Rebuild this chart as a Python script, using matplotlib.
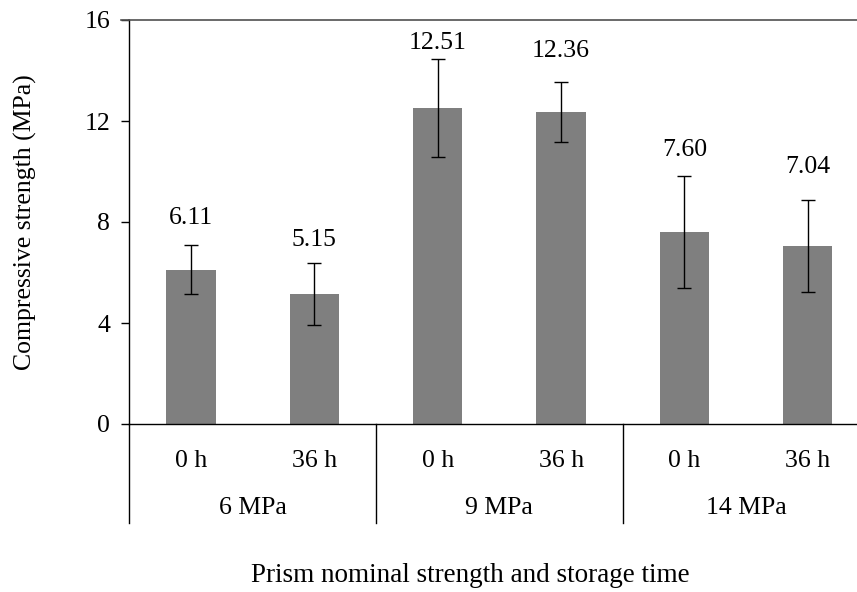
import numpy as np
import matplotlib
matplotlib.use("Agg")
import matplotlib.pyplot as plt
import matplotlib.transforms as mtransforms

# data
groups = ["6 MPa", "9 MPa", "14 MPa"]
times = ["0 h", "36 h"]
strength = [6.11, 5.15, 12.51, 12.36, 7.60, 7.04]
strength_err = [0.96, 1.22, 1.93, 1.19, 2.22, 1.83]
yticks = [0, 4, 8, 12, 16]

plt.rcParams["font.family"] = ["Liberation Serif", "DejaVu Serif"]
fontsize = 18.5

fig = plt.figure(figsize=(8.57, 5.92), dpi=100)
W, H = 857, 592
ax = fig.add_axes([129.4 / W, 1 - 424 / H, 740 / W, 404 / H])

x = np.arange(len(strength))
ax.bar(x, strength, width=0.4, color="#7f7f7f", zorder=2)
ax.errorbar(x, strength, yerr=strength_err, fmt="none", ecolor="black",
            elinewidth=1.0, capsize=4.7, capthick=1.0, zorder=3)

# value labels, gap above the error bar in pixels
label_gap = [27, 23, 16, 31, 26, 33]
for xi, v, e, g in zip(x, strength, strength_err, label_gap):
    ax.annotate("%.2f" % v, (xi, v + e), xytext=(0, g * 0.72),
                textcoords="offset points", ha="center", va="center",
                fontsize=fontsize)

ax.set_xlim(-0.5, len(strength) - 0.5)
ax.set_ylim(0, 16)
ax.set_yticks(yticks)
ax.tick_params(axis="y", direction="out", length=6, width=1.0,
               labelsize=fontsize, pad=8)
ax.set_xticks(x)
ax.set_xticklabels(times * len(groups), fontsize=fontsize)
ax.tick_params(axis="x", length=0, pad=19)

ax.spines["right"].set_visible(False)
ax.spines["top"].set_color("#505050")
ax.spines["top"].set_linewidth(1.2)
ax.spines["left"].set_linewidth(1.0)
ax.spines["bottom"].set_linewidth(1.0)
# top tick at 16 drawn as extension of the top line
ax.plot([-0.0115, 0], [1, 1], transform=ax.transAxes, color="#505050",
        lw=1.2, clip_on=False)

# grouped category axis
trans = mtransforms.blended_transform_factory(ax.transData, ax.transAxes)
y_low = -(523 - 424) / 404
for b in np.arange(-0.5, len(strength), 2):
    ax.plot([b, b], [0, y_low], transform=trans, color="black", lw=1.0,
            clip_on=False)
for i, g in enumerate(groups):
    ax.text(2 * i + 0.5, -(508 - 424) / 404, g, transform=trans,
            ha="center", va="center", fontsize=fontsize)

ax.set_ylabel("Compressive strength (MPa)", fontsize=fontsize)
ax.yaxis.set_label_coords(-(129.4 - 37) / 740, 0.5)
fig.text(470 / W, 1 - 575 / H, "Prism nominal strength and storage time",
         ha="center", va="center", fontsize=19.5)

fig.savefig("out.png", dpi=100)
